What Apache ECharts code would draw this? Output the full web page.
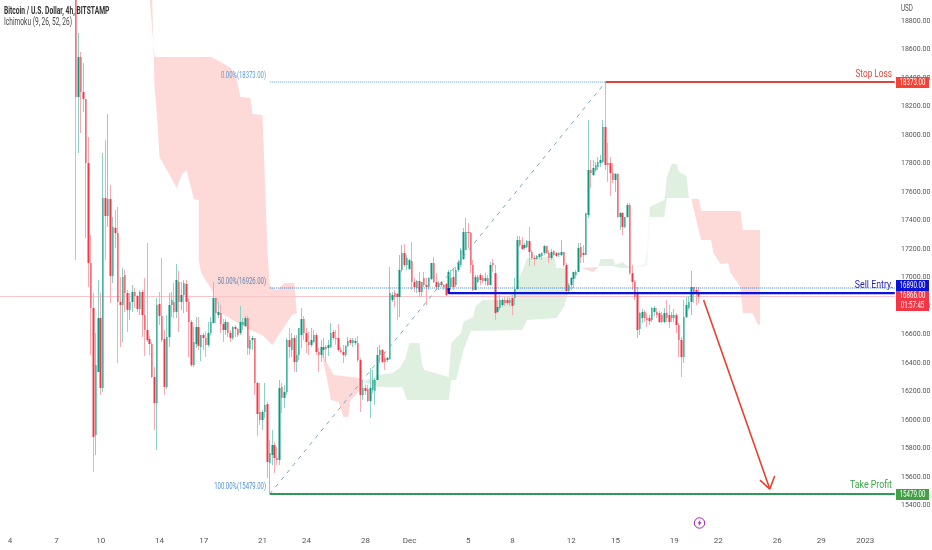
<!DOCTYPE html>
<html><head><meta charset="utf-8">
<style>html,body{margin:0;padding:0;background:#fff}#c{width:932px;height:550px}</style>
<script src="https://cdn.jsdelivr.net/npm/echarts@6/dist/echarts.min.js"></script></head>
<body><div id="c"></div>
<script>
const barCount = 366;
const firstCandle = 31;
const dayLabels = ['4','7','10','14','17','21','24','28','Dec','5','8','12','15','19','22','26','29','2023'];
const dayIndex  = [4,23,41,65,83,107,125,149,167,191,209,233,251,275,293,317,335,353];
// open, close, low, high
const candles = [
[19100,18268,17123,19200],[18268,18549,17874,18717],[18549,18303,18015,18584],[18303,18254,18162,18506],[18254,17804,17277,18254],
[17804,17102,16933,17987],[17102,16786,16456,17298],[16786,15880,15634,16891],[15894,16385,15753,16610],[16336,16715,16336,16982],
[16715,16224,16175,16891],[16224,17558,16196,17874],[17558,17432,17123,17966],[17432,17551,17355,18148],[17551,17010,16821,17650],
[17010,17355,16961,17425],[17348,17312,17207,17474],[17312,16828,16399,17495],[16828,16807,16512,17003],[16807,17003,16547,17067],
[17017,16891,16758,17053],[16891,16772,16617,16912],[16772,16828,16701,16891],[16828,16898,16758,16947],[16898,16870,16786,16926],
[16870,16779,16758,16877],[16779,16898,16736,16912],[16898,16736,16582,16912],[16736,16631,16449,16996],[16631,16561,16547,17242],
[16568,16533,16456,16589],[16533,16301,16294,16547],[16301,16118,15929,16371],[16118,16807,15788,16856],[16814,16729,16666,16898],
[16729,16561,16547,17137],[16568,16231,16175,16631],[16231,16582,16217,16736],[16582,16807,16512,16891],[16807,16842,16722,16898],
[16828,16758,16715,16961],[16758,16982,16715,17095],[16968,16828,16617,17046],[16828,16877,16772,16968],[16877,16961,16750,16982],
[16954,16828,16758,16982],[16828,16687,16442,16856],[16687,16385,16371,16701],[16385,16547,16371,16652],[16533,16652,16505,16722],
[16652,16519,16491,16722],[16512,16596,16413,16596],[16596,16575,16491,16610],[16575,16526,16442,16617],[16526,16610,16512,16687],
[16610,16687,16596,16722],[16680,16856,16680,16968],[16856,16750,16680,16863],[16736,16758,16715,16828],[16750,16673,16610,16807],
[16673,16631,16547,16708],[16631,16687,16596,16708],[16687,16610,16582,16687],[16610,16575,16547,16631],[16575,16652,16561,16659],
[16652,16638,16582,16666],[16638,16596,16582,16645],[16610,16687,16596,16800],[16666,16687,16631,16715],[16659,16715,16652,16729],
[16715,16505,16456,16729],[16498,16561,16456,16589],[16561,16575,16491,16589],[16575,16259,16175,16575],[16259,16041,15887,16266],
[16055,15999,15964,16259],[15999,16055,15929,16069],[16055,16104,16013,16259],[16111,15704,15592,16125],[15697,15767,15479,15858],
[15753,15823,15683,15929],[15823,15732,15627,15844],[15732,15718,15683,15809],[15718,16224,15683,16280],[16231,16154,16048,16259],
[16154,16196,16083,16245],[16196,16561,16175,16575],[16561,16512,16435,16645],[16491,16575,16442,16610],[16575,16406,16336,16596],
[16406,16456,16336,16596],[16456,16645,16420,16645],[16596,16708,16505,16786],[16708,16610,16561,16729],[16610,16547,16470,16645],
[16547,16526,16456,16617],[16526,16561,16512,16645],[16547,16596,16540,16631],[16596,16477,16456,16610],[16477,16456,16336,16505],
[16456,16512,16406,16561],[16491,16512,16435,16575],[16512,16498,16406,16526],[16505,16526,16449,16561],[16512,16610,16505,16680],
[16617,16575,16561,16631],[16575,16568,16526,16631],[16575,16491,16477,16673],[16491,16477,16470,16512],[16477,16456,16399,16526],
[16456,16519,16442,16526],[16519,16554,16512,16582],[16561,16540,16526,16575],[16540,16561,16512,16575],[16540,16554,16526,16575],
[16540,16420,16406,16589],[16420,16175,16055,16435],[16175,16224,16139,16280],[16224,16203,16175,16245],[16217,16132,16125,16245],
[16132,16224,16013,16364],[16210,16280,16189,16350],[16203,16280,16104,16294],[16280,16456,16280,16512],[16456,16491,16399,16526],
[16491,16406,16399,16498],[16435,16406,16350,16477],[16420,16435,16406,16442],[16427,16891,16420,17074],[16842,16877,16828,16898],
[16891,16863,16793,16912],[16884,16863,16701,16891],[16863,17053,16722,17158],[17053,17172,17039,17228],[17172,17088,17074,17235],
[17088,17137,17053,17158],[17060,17123,17053,17130],[17116,16968,16912,17249],[16968,16933,16898,16996],[16926,16975,16891,16982],
[16975,16898,16863,17039],[16898,16968,16863,16968],[16996,16947,16933,17039],[16947,16933,16807,16996],[16933,16996,16912,17003],
[16989,17102,16982,17102],[17102,16968,16961,17144],[16968,16933,16912,17031],[16933,16961,16912,16975],[16968,16947,16933,16975],
[16947,16933,16912,16954],[16954,16877,16870,16961],[16912,17039,16891,17053],[16933,16996,16912,17053],[17003,16933,16912,17067],
[16947,17053,16933,17074],[17053,17109,17039,17123],[17088,17193,17074,17207],[17130,17319,17123,17348],[17193,17319,17193,17418],
[17319,17312,17207,17383],[17312,17088,17031,17319],[17088,16912,16905,17123],[16912,17003,16912,17017],[16968,17003,16961,17017],
[17017,16982,16947,17031],[16996,16975,16961,17017],[16975,16996,16947,17031],[16996,16947,16940,17017],[16947,17088,16947,17109],
[17102,17088,17039,17130],[17031,16750,16701,17088],[16758,16793,16750,16842],[16786,16842,16772,16877],[16807,16842,16793,16856],
[16842,16821,16800,16863],[16842,16821,16807,16863],[16821,16842,16800,16856],[16856,16800,16736,16877],[16856,16919,16807,16996],
[16919,17263,16912,17291],[17263,17228,17214,17291],[17228,17200,17193,17284],[17207,17228,17193,17242],[17214,17256,17207,17263],
[17256,17179,17081,17355],[17179,17137,17123,17193],[17137,17130,17081,17158],[17130,17151,17123,17158],[17144,17165,17130,17172],
[17151,17172,17123,17179],[17172,17221,17158,17228],[17221,17172,17165,17221],[17172,17137,17102,17193],[17137,17179,17123,17200],
[17186,17158,17151,17193],[17172,17151,17144,17179],[17158,17172,17144,17179],[17158,17179,17151,17263],[17179,17088,17074,17179],
[17088,16905,16898,17102],[16905,16947,16898,16961],[16947,16996,16912,17003],[16989,17039,16926,17039],[17017,17039,16996,17053],
[17039,17207,17039,17242],[17214,17144,17102,17242],[17172,17158,17102,17228],[17158,17453,17158,17453],[17439,17755,17418,18106],
[17755,17734,17628,17825],[17720,17769,17713,17825],[17755,17790,17741,17811],[17776,17811,17755,17846],[17804,17825,17776,17860],
[17811,18057,17804,18106],[18057,17790,17755,18373],[17804,17790,17671,17945],[17804,17734,17572,17846],[17734,17685,17664,17804],
[17685,17727,17600,17734],[17727,17425,17418,17734],[17425,17453,17334,17460],[17453,17355,17298,17460],[17355,17425,17348,17425],
[17425,17509,17418,17523],[17509,17031,17017,17523],[17031,16968,16912,17088],[16968,16863,16842,16982],[16891,16631,16575,16933],
[16638,16750,16596,16758],[16715,16758,16680,16779],[16758,16715,16687,16772],[16715,16701,16652,16750],[16715,16694,16666,16736],
[16701,16786,16687,16793],[16758,16786,16729,16800],[16758,16736,16715,16786],[16750,16687,16680,16765],[16736,16687,16680,16758],
[16687,16750,16680,16786],[16750,16715,16687,16842],[16736,16687,16645,16807],[16715,16736,16687,16758],[16715,16736,16687,16779],
[16736,16666,16610,16750],[16666,16561,16442,16680],[16561,16442,16301,16582],[16442,16722,16399,16842],[16722,16807,16715,16863],
[16786,16828,16772,16870],[16828,16933,16736,17046],[16933,16898,16821,16933],[16912,16891,16807,16933],[16898,16866,16821,16933]
];
// Ichimoku cloud outlines as [bar index, price]
const redCloudA = [[61,18949],[63,18549],[86,18549],[90,18514],[94,18471],[96,18422],[97,18352],[98,18268],[102,18261],[103,18148],[107,18141],[108,17685],[109,17193],[110,16940],[113,16912],[116,16961],[120,16961],[121,16750],[119,16736],[115,16631],[111,16526],[107,16596],[102,16631],[90,16750],[87,16891],[82,17031],[81,17123],[81,17544],[79,17551],[76,17755],[74,17720],[72,17628],[68,17755],[65,17846],[64,18127],[63,18331],[62,18949]];
const redCloudB = [[131,16477],[136,16315],[147,16294],[148,16266],[147,16210],[143,16139],[142,16020],[140,16020],[138,16125],[135,16139],[133,16315]];
const redCloudC = [[237,17067],[244,17074],[242,17038]];
const redCloudD = [[282,17551],[285,17551],[286,17467],[302,17467],[303,17334],[310,17334],[310,16666],[309,16673],[307,16750],[303,16750],[302,16933],[298,17031],[297,17102],[294,17095],[291,17172],[290,17263],[286,17263],[284,17404]];
const greenCloudA = [[148,16266],[154,16315],[160,16329],[163,16364],[165,16420],[167,16540],[171,16540],[172,16399],[173,16350],[183,16301],[184,16540],[188,16610],[189,16687],[193,16722],[194,16800],[197,16842],[206,16842],[210,16912],[215,17137],[226,17151],[227,17067],[231,17067],[232,16898],[230,16793],[227,16715],[215,16701],[213,16631],[192,16624],[189,16491],[186,16280],[184,16280],[183,16139],[166,16139],[164,16231],[154,16231],[151,16252]];
const greenCloudB = [[244,17081],[245,17130],[250,17130],[251,17088],[254,17109],[256,17081],[258,17067],[253,17067],[250,17081]];
const greenCloudC = [[265,17495],[271,17544],[272,17706],[274,17797],[276,17797],[277,17741],[280,17713],[281,17558],[272,17558],[271,17425],[265,17425]];
const greenSliver = [[258,17067],[264,17081],[265,17425],[265,17495],[264,17200],[263,17095],[258,17074]];
const stopLoss = 18373, midFib = 16926, entry = 16890, lastPrice = 16866, takeProfit = 15479;
const fibStart = 110, fibEnd = 247, entryStart = 183, lastBar = 365;
const arrowShaft = [[287,16842],[314,15514]];
const arrowHead = [[310,15577],[314,15514],[316,15606]];

const categories = Array.from({length: barCount}, (_, i) => { const p = dayIndex.indexOf(i); return p < 0 ? '' : dayLabels[p]; });
const pad = Array(firstCandle).fill('-');
const wickData = pad.concat(candles);
const bodyData = pad.concat(candles.map(r => [r[0], r[1], Math.min(r[0], r[1]), Math.max(r[0], r[1])]));
const font = 'Roboto,sans-serif';

function cloud(name, pts, color) {
  return { type: 'custom', name, coordinateSystem: 'cartesian2d', silent: true, z: 1, clip: true, data: [0],
    renderItem: (p, api) => ({ type: 'polygon', shape: { points: pts.map(q => api.coord(q)) }, style: { fill: color } }) };
}
function seg(data, color, width, type, z) {
  return { type: 'line', data, symbol: 'none', silent: true, z: z || 3, clip: true, animation: false,
    lineStyle: { color, width, type: type || 'solid' } };
}
function text(x, y, t, fill, size, align, sx, weight) {
  return { type: 'text', x, y, z: 20, scaleX: sx || 0.7, style: { text: t, fill, font: (weight || 'normal') + ' ' + size + 'px ' + font, textAlign: align || 'left', textVerticalAlign: 'middle' } };
}
function tag(x, y, w, h, fill) {
  return { type: 'rect', z: 15, shape: { x, y, width: w, height: h }, style: { fill } };
}

const chart = echarts.init(document.getElementById('c'), null, { renderer: 'canvas' });
chart.setOption({
  animation: false,
  backgroundColor: '#ffffff',
  grid: { left: -1, top: -7.26, width: 897, height: 541, outerBoundsMode: 'none', containLabel: false },
  xAxis: { type: 'category', data: categories, boundaryGap: true,
    axisLine: { show: false }, axisTick: { show: false }, splitLine: { show: false },
    axisLabel: { interval: 0, color: '#555', fontSize: 8, fontFamily: font, margin: 3, hideOverlap: false } },
  yAxis: { type: 'value', position: 'right', min: 15200, max: 19000, interval: 200, scale: true,
    axisLine: { show: false }, axisTick: { show: false }, splitLine: { show: false },
    axisLabel: { color: '#555', fontSize: 7, fontFamily: font, margin: 5, align: 'left',
      formatter: v => (v < 15400 || v > 18800) ? '' : v.toFixed(2) } },
  series: [
    cloud('redA', redCloudA, '#fdd9d7'), cloud('redB', redCloudB, '#fdd9d7'), cloud('redC', redCloudC, '#fdd9d7'), cloud('redD', redCloudD, '#fdd9d7'),
    cloud('greenA', greenCloudA, '#dff0e1'), cloud('greenB', greenCloudB, '#dff0e1'), cloud('greenC', greenCloudC, '#dff0e1'), cloud('greenS', greenSliver, '#f1f8f2'),
    seg([[0, lastPrice], [lastBar, lastPrice]], '#f8c4c8', 1, 'solid', 2),
    { type: 'candlestick', name: 'wick', data: wickData, barWidth: 1, z: 4, silent: true,
      itemStyle: { color: '#8fd0c4', color0: '#f6aab1', borderColor: '#8fd0c4', borderColor0: '#f6aab1', borderWidth: 1 } },
    { type: 'candlestick', name: 'body', data: bodyData, barWidth: 2, z: 5, silent: true,
      itemStyle: { color: '#089981', color0: '#f23645', borderColor: '#089981', borderColor0: '#f23645', borderWidth: 0 } },
    seg([[fibStart, stopLoss], [fibEnd, stopLoss]], '#5a9bd8', 1, 'dotted', 6),
    seg([[fibStart, midFib], [lastBar, midFib]], '#3a7fc4', 1, 'dotted', 6),
    seg([[fibStart, takeProfit], [fibEnd, stopLoss]], '#7fa4c8', 1, [4, 5], 6),
    seg([[fibEnd, stopLoss], [lastBar, stopLoss]], '#d9453f', 2, 'solid', 6),
    seg([[fibStart, takeProfit], [lastBar, takeProfit]], '#2fa34a', 2, 'solid', 6),
    seg([[fibStart, takeProfit], [lastBar, takeProfit]], '#2a7f7f', 1, [2, 2], 7),
    seg([[entryStart, midFib], [entryStart, entry], [lastBar, entry]], '#0a12e0', 2.4, 'solid', 6),
    seg(arrowShaft, '#e8402f', 1.6, 'solid', 7),
    seg(arrowHead, '#e8402f', 1.6, 'solid', 7)
  ],
  graphic: [
    text(4, 11, 'Bitcoin / U.S. Dollar, 4h, BITSTAMP', '#333', 10, 'left', 0.67, 'bold'),
    text(4, 22, 'Ichimoku (9, 26, 52, 26)', '#444', 10, 'left', 0.66),
    text(901, 9, 'USD', '#555', 9, 'left', 0.7),
    text(266, 76, '0.00%(18373.00)', '#5a9bd8', 8.5, 'right', 0.7),
    text(266, 282, '50.00%(16926.00)', '#5a83b8', 8.5, 'right', 0.7),
    text(266, 487, '100.00%(15479.00)', '#4a90d9', 8.5, 'right', 0.7),
    text(892, 74, 'Stop Loss', '#e0483c', 11, 'right', 0.75),
    text(893, 285, 'Sell Entry.', '#1f1fb8', 11, 'right', 0.8),
    text(892, 485, 'Take Profit', '#3fa34d', 11, 'right', 0.8),
    tag(896, 77, 33, 11, '#f44336'), text(912.5, 82.5, '18373.00', '#fff', 9, 'center', 0.68),
    tag(896, 280, 33, 11, '#0a12d8'), text(912.5, 285.5, '16890.00', '#fff', 9, 'center', 0.68),
    tag(896, 291, 33, 20, '#f23645'), text(912.5, 296, '16866.00', '#fff', 9, 'center', 0.68), text(912.5, 305.5, '01:57:45', '#fff', 9, 'center', 0.68),
    tag(896, 489, 33, 11, '#43a047'), text(912.5, 494.5, '15479.00', '#fff', 9, 'center', 0.68),
    { type: 'circle', z: 15, shape: { cx: 699.5, cy: 523, r: 5.2 }, style: { fill: '#fff', stroke: '#9c27b0', lineWidth: 1 } },
    { type: 'polygon', z: 16, shape: { points: [[700.5,519.5],[697.5,523.5],[699.3,523.5],[698.5,526.5],[701.5,522.3],[699.7,522.3]] }, style: { fill: '#9c27b0' } }
  ]
});
</script></body></html>
